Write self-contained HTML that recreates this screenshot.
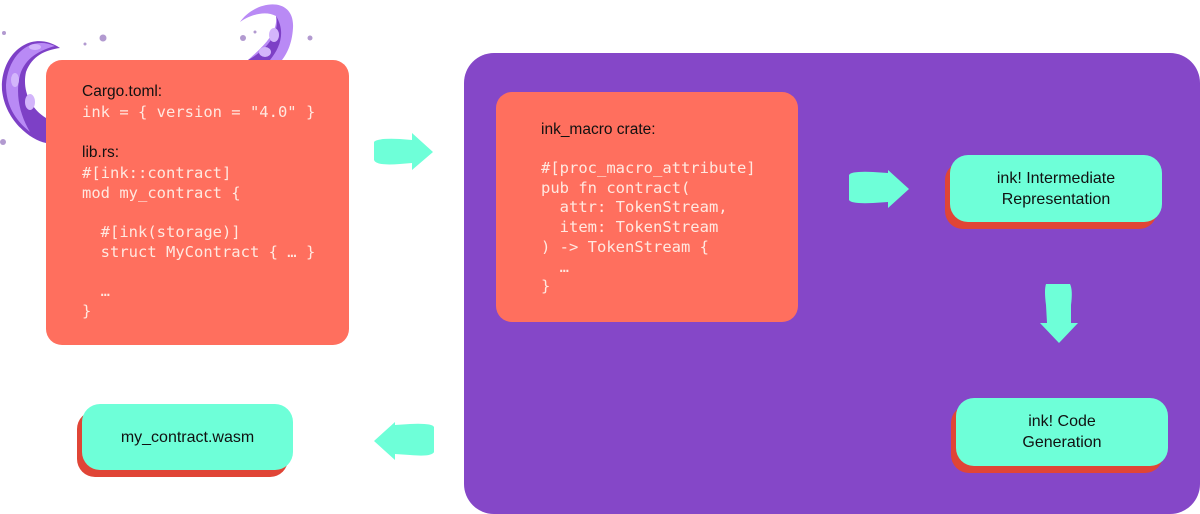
<!DOCTYPE html>
<html><head><meta charset="utf-8"><style>
body{margin:0;width:1200px;height:514px;background:#fff;position:relative;overflow:hidden;font-family:"Liberation Sans",sans-serif}
.abs{position:absolute}
.coral{background:#ff6f5e;border-radius:16px}
.mono{font-family:"DejaVu Sans Mono","Liberation Mono",monospace;font-size:15.5px;color:#ffe8e0;white-space:pre;line-height:19.7px}
.lbl{font-size:15.5px;color:#111}
.pill{background:#6effd8;border-radius:18px;box-shadow:-5px 7px 0 #e04536;display:flex;align-items:center;justify-content:center;text-align:center;font-size:16px;color:#111;line-height:21px}
</style></head><body>
<svg class="abs" style="left:0;top:0" width="1200" height="514">
<path d="M60 48 C 30 28, 0 55, 2 90 C 5 120, 30 140, 46 143 L46 118 C 30 108, 22 90, 26 72 C 32 56, 45 50, 60 48 Z" fill="#7d40c6"/>
<path d="M55 46 C 30 35, 8 55, 6 85 C 6 105, 15 120, 30 132 C 20 115, 15 95, 20 75 C 25 58, 40 50, 55 46 Z" fill="#b98af5"/>
<ellipse cx="15" cy="80" rx="4" ry="7" fill="#d3b5fb"/><ellipse cx="30" cy="102" rx="5" ry="8" fill="#d3b5fb"/><ellipse cx="35" cy="47" rx="6" ry="3" fill="#d3b5fb"/>
<path d="M240 22 C 255 0, 295 -5, 293 28 C 292 45, 286 55, 282 60 L248 60 C 265 45, 278 32, 276 16 C 265 10, 250 15, 240 22 Z" fill="#b98af5"/>
<path d="M276 16 C 280 30, 270 48, 248 60 L270 60 C 280 48, 286 32, 276 16 Z" fill="#7d40c6"/>
<ellipse cx="274" cy="35" rx="5" ry="7" fill="#d3b5fb"/><ellipse cx="265" cy="52" rx="6" ry="5" fill="#d3b5fb"/>
<g fill="#b29ad0"><circle cx="4" cy="33" r="2"/><circle cx="103" cy="38" r="3.5"/><circle cx="85" cy="44" r="1.5"/><circle cx="243" cy="38" r="3"/><circle cx="255" cy="32" r="1.5"/><circle cx="310" cy="38" r="2.5"/><circle cx="3" cy="142" r="3"/></g>
<rect x="464" y="53" width="736" height="461" rx="30" fill="#8547c8"/>
<g fill="#6effd8">
<path d="M374 142 Q376 138 400 139 L412 140 L412 133 L433 152 L412 170 L412 163 L400 164 Q376 166 374 160 Z"/>
<path d="M849 175 Q851 171 873 172 L888 173 L888 170 L909 189 L888 208 L888 202 L873 203 Q851 204 849 200 Z"/>
<path d="M1046 284 L1070 284 Q1073 290 1071 305 L1071 323 L1078 323 L1059 343 L1040 323 L1047 323 L1046 305 Q1044 290 1046 284 Z"/>
<path d="M434 427 Q432 423 410 424 L395 425 L395 422 L374 441 L395 460 L395 454 L410 455 Q432 457 434 452 Z"/>
</g>
</svg>
<div class="abs coral" style="left:46px;top:60px;width:303px;height:285px"></div>
<div class="abs lbl" style="left:82px;top:83px">Cargo.toml:</div>
<div class="abs mono" style="left:82px;top:103px">ink = { version = "4.0" }</div>
<div class="abs lbl" style="left:82px;top:144px">lib.rs:</div>
<div class="abs mono" style="left:82px;top:164px">#[ink::contract]
mod my_contract {

  #[ink(storage)]
  struct MyContract { … }

  …
}</div>
<div class="abs coral" style="left:496px;top:92px;width:302px;height:230px"></div>
<div class="abs lbl" style="left:541px;top:121px">ink_macro crate:</div>
<div class="abs mono" style="left:541px;top:159px">#[proc_macro_attribute]
pub fn contract(
  attr: TokenStream,
  item: TokenStream
) -> TokenStream {
  …
}</div>
<div class="abs pill" style="left:950px;top:155px;width:212px;height:67px">ink! Intermediate<br>Representation</div>
<div class="abs pill" style="left:956px;top:398px;width:212px;height:68px">ink! Code<br>Generation</div>
<div class="abs pill" style="left:82px;top:404px;width:211px;height:66px">my_contract.wasm</div>
</body></html>
